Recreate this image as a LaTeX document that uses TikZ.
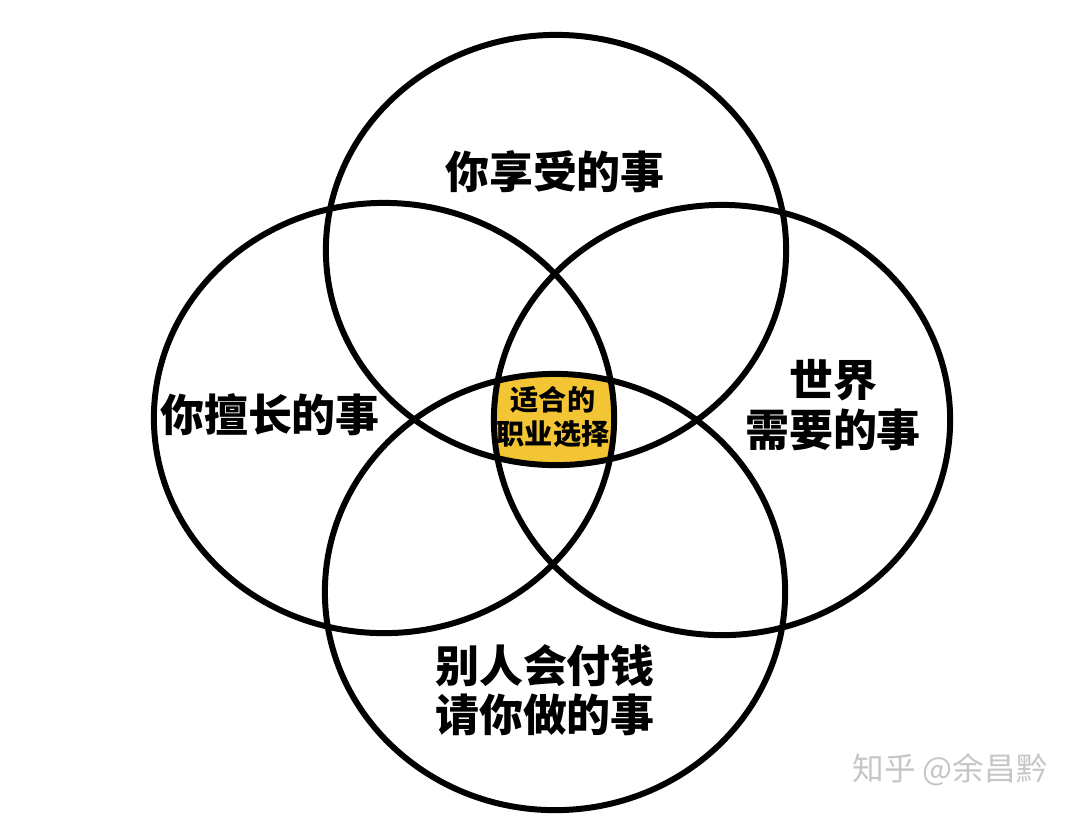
\documentclass[tikz,border=0pt]{standalone}
\usepackage{xcolor}
\usepackage{fontspec}
\newfontfamily\cjk{Noto Sans CJK SC}
\usepackage{tikz}
\usetikzlibrary{shapes.geometric}
\definecolor{fitgold}{HTML}{F3C433}
\tikzset{
  ring/.style={draw,ellipse,line width=1.7pt,inner sep=0pt,
              minimum width=4.6cm,minimum height=4.3cm},
  lbl/.style={font=\cjk\bfseries\fontsize{12.5}{14}\selectfont,align=center},
  corelbl/.style={font=\cjk\bfseries\fontsize{8}{9.5}\selectfont,align=center},
  wmark/.style={font=\cjk\fontsize{9}{11}\selectfont,text=gray!45},
}

\begin{document}
\begin{tikzpicture}[x=0.01cm,y=-0.01cm]
  \useasboundingbox (0,0) rectangle (1077,817);
  % the middle, inside all four rings
  \begin{scope}
    \clip (556,250) ellipse [x radius=2.31cm,y radius=2.15cm];
    \clip (384,418) ellipse [x radius=2.31cm,y radius=2.15cm];
    \clip (722,420) ellipse [x radius=2.28cm,y radius=2.15cm];
    \clip (555,592) ellipse [x radius=2.30cm,y radius=2.18cm];
    \fill[fitgold] (400,300) rectangle (700,550);
  \end{scope}
  \node[ring] (enjoy) at (556,250) {};
  \node[ring] (good)  at (384,418) {};
  \node[ring,minimum width=4.56cm] (world) at (722,420) {};
  \node[ring,minimum height=4.36cm] (paid)  at (555,592) {};
  \node[lbl] (enjoyt) at (555,172) {你享受的事};
  \node[lbl] (goodt)  at (270,415) {你擅长的事};
  \node[lbl] (worldt) at (833,405) {世界\\需要的事};
  \node[lbl] (paidt)  at (545,690) {别人会付钱\\请你做的事};
  \node[corelbl] (fit) at (553,417) {适合的\\职业选择};
  \node[wmark] (sig) at (950,770) {知乎 @余昌黔};
\end{tikzpicture}
\end{document}
